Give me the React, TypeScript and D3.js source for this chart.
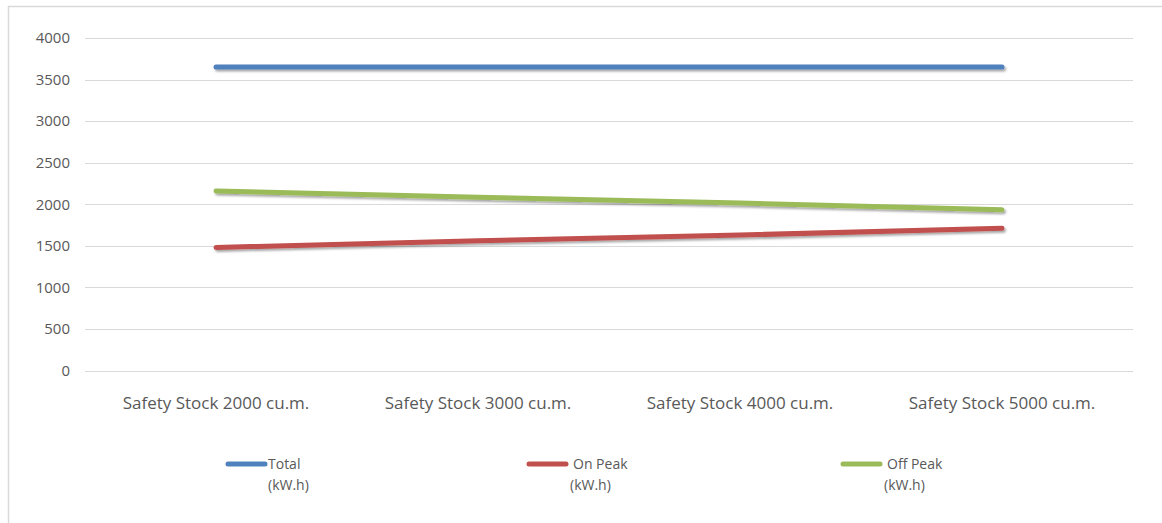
import React, { useEffect, useRef } from "react";
import * as d3 from "d3";

const categories = [
  "Safety Stock 2000 cu.m.",
  "Safety Stock 3000 cu.m.",
  "Safety Stock 4000 cu.m.",
  "Safety Stock 5000 cu.m.",
];
const totalValues = [3650, 3650, 3650, 3650];
const onPeakValues = [1480, 1560, 1630, 1710];
const offPeakValues = [2160, 2085, 2015, 1935];
const yTicks = [0, 500, 1000, 1500, 2000, 2500, 3000, 3500, 4000];
const seriesNames = ["Total", "On Peak", "Off Peak"];
const seriesUnit = "(kW.h)";

const colors = ["#4F81BD", "#C0504D", "#9BBB59"];

function renderChart(el: SVGSVGElement) {
  const W = 1162;
  const H = 523;
  const svg = d3.select(el);
  svg.selectAll("*").remove();

  const font = "'Open Sans', 'Noto Sans', sans-serif";

  const defs = svg.append("defs");
  // userSpaceOnUse so flat (zero-height) lines still get the shadow
  const filter = defs
    .append("filter")
    .attr("id", "shadow")
    .attr("filterUnits", "userSpaceOnUse")
    .attr("x", 0)
    .attr("y", 0)
    .attr("width", W)
    .attr("height", H);
  filter
    .append("feDropShadow")
    .attr("dx", 1.5)
    .attr("dy", 2)
    .attr("stdDeviation", 1.2)
    .attr("flood-color", "#000")
    .attr("flood-opacity", 0.35);

  svg.append("rect").attr("width", W).attr("height", H).attr("fill", "#fff");

  // outer frame (only top and left visible)
  svg
    .append("path")
    .attr("d", "M8.5," + H + " V6.5 H" + W)
    .attr("fill", "none")
    .attr("stroke", "#d9d9d9")
    .attr("stroke-width", 1.5);

  const left = 85;
  const right = 1133;
  const top = 38;
  const bottom = 370.5;

  const x = d3.scaleBand().domain(categories).range([left, right]);
  const y = d3.scaleLinear().domain([0, 4000]).range([bottom, top]);

  const grid = svg.append("g");
  grid
    .selectAll("line")
    .data(yTicks)
    .enter()
    .append("line")
    .attr("x1", left)
    .attr("x2", right)
    .attr("y1", (d) => Math.round(y(d)) + 0.5)
    .attr("y2", (d) => Math.round(y(d)) + 0.5)
    .attr("stroke", "#d9d9d9")
    .attr("stroke-width", 1);

  svg
    .append("g")
    .selectAll("text")
    .data(yTicks)
    .enter()
    .append("text")
    .attr("x", 70)
    .attr("y", (d) => y(d))
    .attr("dy", "0.35em")
    .attr("text-anchor", "end")
    .attr("font-family", font)
    .attr("font-size", 15)
    .attr("fill", "#595959")
    .text((d) => d);

  svg
    .append("g")
    .selectAll("text")
    .data(categories)
    .enter()
    .append("text")
    .attr("x", (d) => (x(d) as number) + x.bandwidth() / 2)
    .attr("y", 409)
    .attr("text-anchor", "middle")
    .attr("font-family", font)
    .attr("font-size", 17)
    .attr("fill", "#595959")
    .text((d) => d);

  const allSeries = [totalValues, onPeakValues, offPeakValues];
  const line = d3
    .line<number>()
    .x((_, i) => (x(categories[i]) as number) + x.bandwidth() / 2)
    .y((d) => y(d));

  // draw in reverse so Total is on top
  allSeries
    .map((vals, i) => ({ vals, i }))
    .reverse()
    .forEach(({ vals, i }) => {
      svg
        .append("path")
        .attr("d", line(vals))
        .attr("fill", "none")
        .attr("stroke", colors[i])
        .attr("stroke-width", 5)
        .attr("stroke-linecap", "round")
        .attr("stroke-linejoin", "round")
        .attr("filter", "url(#shadow)");
    });

  // legend
  const legendX = [228, 529, 843];
  const legend = svg.append("g");
  seriesNames.forEach((name, i) => {
    const g = legend.append("g").attr("transform", "translate(" + legendX[i] + ",464)");
    g.append("line")
      .attr("x1", 0)
      .attr("x2", 37)
      .attr("y1", 0)
      .attr("y2", 0)
      .attr("stroke", colors[i])
      .attr("stroke-width", 5)
      .attr("stroke-linecap", "round");
    g.append("text")
      .attr("x", i === 0 ? 40 : 44)
      .attr("y", 0)
      .attr("dy", "0.35em")
      .attr("font-family", font)
      .attr("font-size", 14)
      .attr("fill", "#595959")
      .text(name);
    g.append("text")
      .attr("x", i === 0 ? 40 : 41)
      .attr("y", 21)
      .attr("dy", "0.35em")
      .attr("font-family", font)
      .attr("font-size", 14)
      .attr("fill", "#595959")
      .text(seriesUnit);
  });
}

export default function App() {
  const ref = useRef<SVGSVGElement>(null);
  useEffect(() => {
    if (ref.current) renderChart(ref.current);
  }, []);
  return (
    <svg
      ref={ref}
      width={1162}
      height={523}
      style={{ position: "absolute", left: 0, top: 0, display: "block" }}
    />
  );
}
